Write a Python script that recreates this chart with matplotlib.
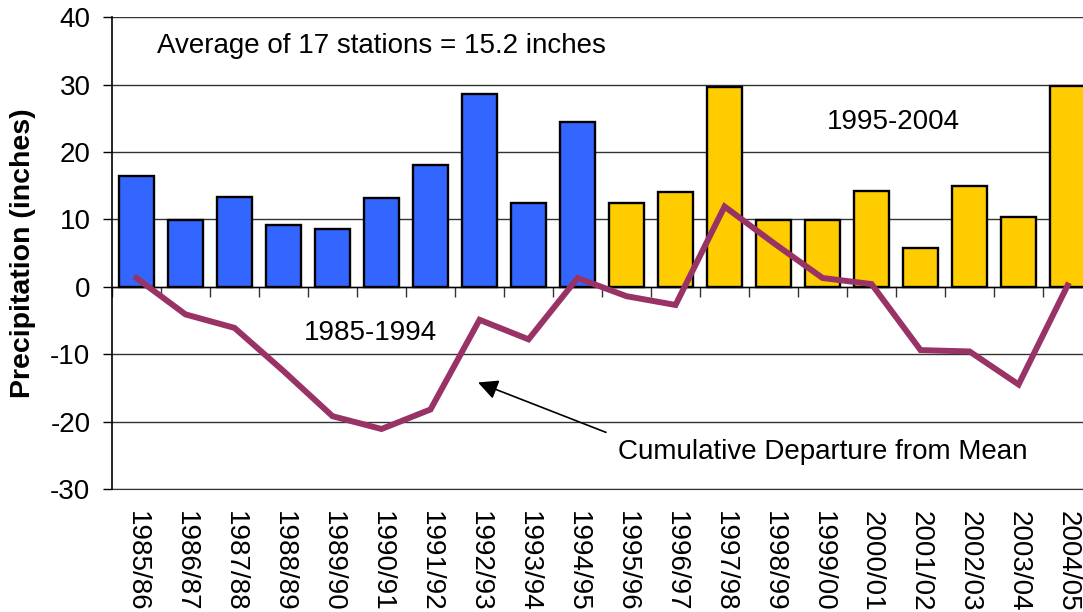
import numpy as np
import matplotlib
matplotlib.use("Agg")
import matplotlib.pyplot as plt

plt.rcParams['font.family'] = ['Liberation Sans', 'DejaVu Sans']
plt.rcParams['axes.unicode_minus'] = False

seasons = ["1985/86", "1986/87", "1987/88", "1988/89", "1989/90", "1990/91",
           "1991/92", "1992/93", "1993/94", "1994/95", "1995/96", "1996/97",
           "1997/98", "1998/99", "1999/00", "2000/01", "2001/02", "2002/03",
           "2003/04", "2004/05"]
precip = [16.4, 9.9, 13.25, 9.1, 8.55, 13.2, 18.1, 28.6, 12.4, 24.5,
          12.5, 14.05, 29.7, 9.9, 9.85, 14.25, 5.7, 15.0, 10.4, 29.8]
cum_departure = [1.3, -4.1, -6.1, -12.5, -19.2, -21.1, -18.2, -4.9, -7.8, 1.3,
                 -1.4, -2.7, 11.9, 6.5, 1.3, 0.4, -9.4, -9.6, -14.5, 0.2]
period = ["1985-1994"] * 10 + ["1995-2004"] * 10
period_colors = {"1985-1994": "#3366FF", "1995-2004": "#FFCC00"}

FS = 20
x = np.arange(len(seasons))
fig = plt.figure(figsize=(10.83, 6.12), dpi=100)
ax = fig.add_axes([0.1034, 0.201, 0.905, 0.771])

ax.bar(x, precip, width=0.72, color=[period_colors[p] for p in period],
       edgecolor="black", linewidth=1.7, zorder=3)
ax.plot(x, cum_departure, color="#993366", linewidth=4.3, zorder=4,
        solid_joinstyle="miter")

ax.set_xlim(-0.5, len(seasons) - 0.5)
ax.set_ylim(-30, 40)
ax.set_yticks(np.arange(-30, 41, 10))
ax.yaxis.grid(True, color="#333333", linewidth=1.0, zorder=0)
ax.tick_params(axis="y", labelsize=FS, length=6.5, width=1.0, direction="out", pad=9)
ax.set_ylabel("Precipitation (inches)", fontsize=20.5, fontweight="bold", labelpad=10)

# category axis crossing at zero, ticks between categories
ax.spines["bottom"].set_position(("data", 0))
ax.spines["bottom"].set_linewidth(1.0)
ax.set_xticks(x)
ax.set_xticklabels([])
ax.tick_params(axis="x", which="major", length=0)
ax.set_xticks(np.arange(len(seasons) + 1) - 0.5, minor=True)
ax.tick_params(axis="x", which="minor", length=7, width=1.0, direction="out", color="#333333")
ax.spines["top"].set_visible(False)
ax.spines["right"].set_visible(False)
ax.spines["left"].set_linewidth(1.2)

sec = ax.secondary_xaxis("bottom")
sec.set_xticks(x)
sec.set_xticklabels(seasons, rotation=270, fontsize=FS, va="top", ha="center")
sec.tick_params(length=0, pad=16)
sec.spines["bottom"].set_color("#333333")

ax.text(0.42, 35.7, "Average of 17 stations = 15.2 inches", fontsize=FS,
        ha="left", va="center")
ax.text(4.77, -6.8, "1985-1994", fontsize=FS, ha="center", va="center")
ax.text(15.44, 24.4, "1995-2004", fontsize=FS, ha="center", va="center")
ax.annotate("", xy=(6.97, -14.2), xytext=(9.58, -21.6),
            arrowprops=dict(arrowstyle="-|>,head_length=0.6,head_width=0.3",
                            color="black", lw=1.2, mutation_scale=20,
                            shrinkA=0, shrinkB=0))
ax.text(14.01, -24.5, "Cumulative Departure from Mean", fontsize=FS,
        ha="center", va="center")

fig.savefig("out.png", dpi=100)
